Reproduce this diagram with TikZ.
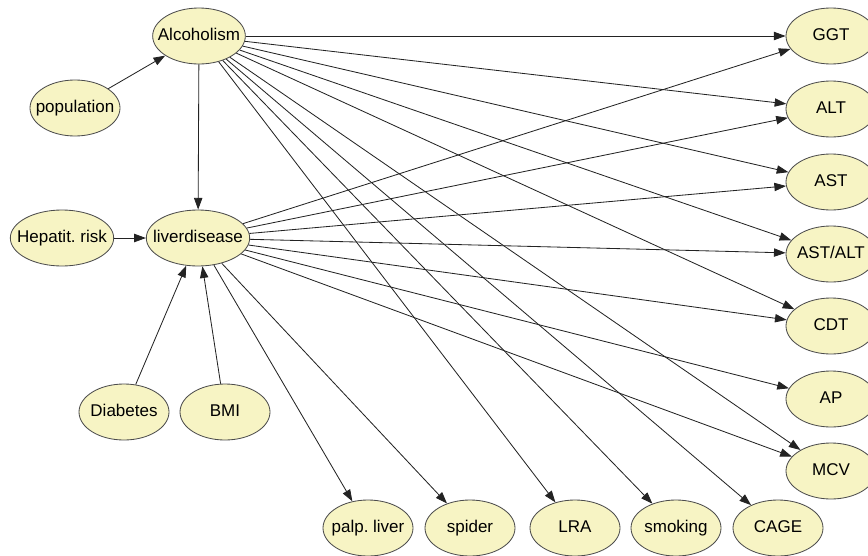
\documentclass[tikz,border=0pt]{standalone}
\usepackage{fontspec}
\setmainfont{Liberation Sans}
\usetikzlibrary{shapes.geometric,arrows.meta}
\definecolor{nodefill}{RGB}{247,244,196}
\definecolor{edgegray}{RGB}{35,35,35}

\begin{document}
\begin{tikzpicture}[x=0.6pt, y=-0.6pt, line width=0.5pt,
    var/.style={ellipse, draw=black!70, fill=nodefill, minimum width=54pt,
      minimum height=33.6pt, inner xsep=-5pt, inner ysep=0pt,
      text height=7.4pt, text depth=2.1pt, font=\fontsize{10.2}{12}\selectfont},
    edge/.style={draw=edgegray, -{Triangle[length=7pt,width=5pt]}}]
    \useasboundingbox (0,0) rectangle (868,555);

    % Nodes (left part)
    \node[var] (alc) at (199,36) {Alcoholism};
    \node[var] (pop) at (75,108) {population};
    \node[var] (hep) at (62,238) {Hepatit.\ risk};
    \node[var] (liver) at (198,238) {liverdisease};
    \node[var] (diab) at (124,412) {Diabetes};
    \node[var] (bmi) at (225,412) {BMI};

    % Nodes (bottom row)
    \node[var] (palp) at (368,528) {palp.\ liver};
    \node[var] (spider) at (470,528) {spider};
    \node[var] (lra) at (575,528) {LRA};
    \node[var] (smoking) at (676,528) {smoking};
    \node[var] (cage) at (778,528) {CAGE};

    % Nodes (right column)
    \node[var] (ggt) at (831,36) {GGT};
    \node[var] (alt) at (831,109) {ALT};
    \node[var] (ast) at (831,182) {AST};
    \node[var] (astalt) at (831,254) {AST/ALT};
    \node[var] (cdt) at (831,326) {CDT};
    \node[var] (ap) at (831,399) {AP};
    \node[var] (mcv) at (831,471) {MCV};

    % Parents of the two central nodes
    \draw[edge] (pop) -- (alc);
    \draw[edge] (alc) -- (liver);
    \draw[edge] (hep) -- (liver);
    \draw[edge] (diab) -- (liver);
    \draw[edge] (bmi) -- (liver);

    % Edges out of Alcoholism
    \draw[edge] (alc) -- (ggt);
    \draw[edge] (alc) -- (alt);
    \draw[edge] (alc) -- (ast);
    \draw[edge] (alc) -- (astalt);
    \draw[edge] (alc) -- (cdt);
    \draw[edge] (alc) -- (mcv);
    \draw[edge] (alc) -- (lra);
    \draw[edge] (alc) -- (smoking);
    \draw[edge] (alc) -- (cage);

    % Edges out of liverdisease
    \draw[edge] (liver) -- (ggt);
    \draw[edge] (liver) -- (alt);
    \draw[edge] (liver) -- (ast);
    \draw[edge] (liver) -- (astalt);
    \draw[edge] (liver) -- (cdt);
    \draw[edge] (liver) -- (ap);
    \draw[edge] (liver) -- (mcv);
    \draw[edge] (liver) -- (palp);
    \draw[edge] (liver) -- (spider);

\end{tikzpicture}
\end{document}
